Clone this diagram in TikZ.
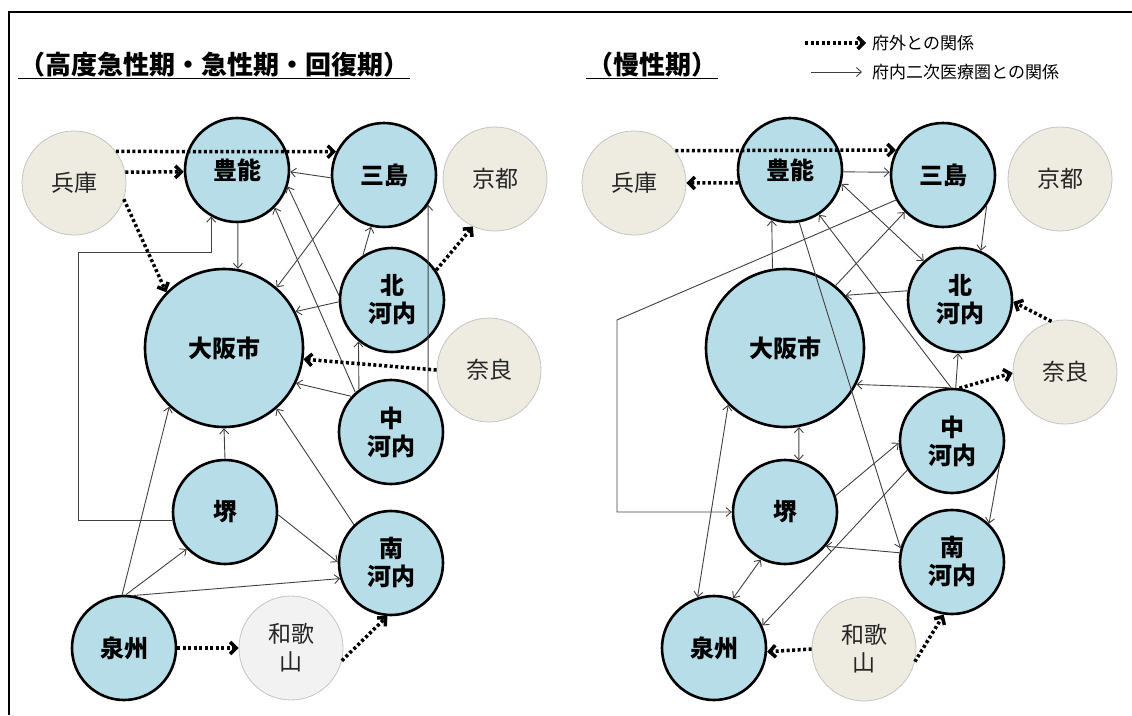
\documentclass[tikz,border=0pt]{standalone}
\usepackage{fontspec}
\setmainfont{Noto Sans CJK JP}
\usetikzlibrary{arrows.meta}

\begin{document}
\begin{tikzpicture}[x=1pt, y=-1pt,
	area/.style={shape=circle, minimum size=104pt, inner sep=0pt, align=center,
		font=\fontsize{24}{28}\selectfont\bfseries, line width=2.6pt, draw=black, fill=myblue},
	city/.style={area, minimum size=158pt},
	pref/.style={shape=circle, minimum size=104pt, inner sep=0pt, align=center,
		font=\fontsize{23}{28}\selectfont, text=mytext, line width=0.8pt, draw=mygrey, fill=mybeige},
	heading/.style={anchor=west, inner sep=1pt, font=\fontsize{26}{30}\selectfont\bfseries},
	note/.style={anchor=west, inner sep=0pt, font=\fontsize{17}{20}\selectfont},
	extarrow/.style={-{Straight Barb[length=6pt,width=12pt]}, line width=3.5pt,
		dash pattern=on 3pt off 2.5pt, color=black},
	intarrow/.style={line width=0.9pt, color=myline},
	>={Straight Barb[length=5pt,width=9pt]},
]
\definecolor{myblue}{HTML}{B7DEE8}
\definecolor{mybeige}{HTML}{EEECE1}
\definecolor{mylight}{HTML}{F2F2F2}
\definecolor{mygrey}{HTML}{C4C4C4}
\definecolor{mytext}{HTML}{262626}
\definecolor{myline}{HTML}{404040}
\useasboundingbox (0,0) rectangle (1132,715);
\draw[line width=1.5pt] (9,715) -- (9,12) -- (1132,12);

\node[heading] (t1) at (18,65) {（高度急性期・急性期・回復期）};
\node[heading] (t2) at (586,65) {（慢性期）};
\draw[line width=1pt] (t1.south west) -- (t1.south east);
\draw[line width=1pt] (t2.south west) -- (t2.south east);

\node[note] (n1) at (872,43) {府外との関係};
\node[note] (n2) at (872,72) {府内二次医療圏との関係};
\coordinate (k1) at (805,43);
\coordinate (k2) at (811,72);
\draw[extarrow, shorten >=6pt] (k1) -- (n1.west);
\draw[intarrow, ->, shorten >=10pt] (k2) -- (n2.west);

\node[pref] (hyo1) at (74,183) {兵庫};
\node[area] (toy1) at (237,170) {豊能};
\node[area] (mis1) at (384,175) {三島};
\node[pref] (kyo1) at (495,179) {京都};
\node[area] (kit1) at (392,300) {北\\河内};
\node[city] (osa1) at (224,348) {大阪市};
\node[pref] (nar1) at (489,370) {奈良};
\node[area] (nak1) at (391,432) {中\\河内};
\node[area] (sak1) at (225,512) {堺};
\node[area] (min1) at (391,563) {南\\河内};
\node[area] (sen1) at (124,648) {泉州};
\node[pref, fill=mylight] (wak1) at (291,648) {和歌\\山};

\node[pref] (hyo2) at (634,183) {兵庫};
\node[area] (toy2) at (790,170) {豊能};
\node[area] (mis2) at (943,175) {三島};
\node[pref] (kyo2) at (1060,179) {京都};
\node[area] (kit2) at (960,300) {北\\河内};
\node[city] (osa2) at (785,348) {大阪市};
\node[pref] (nar2) at (1065,372) {奈良};
\node[area] (nak2) at (952,441) {中\\河内};
\node[area] (sak2) at (785,512) {堺};
\node[area] (min2) at (952,562) {南\\河内};
\node[area] (sen2) at (714,648) {泉州};
\node[pref] (wak2) at (864,649) {和歌\\山};

\coordinate (c1) at (78,252);
\coordinate (c2) at (617,320);

\begin{scope}[->, intarrow]
\draw (mis1.183) -- (toy1.358);
\draw (toy1.271) -- (osa1.80);
\draw (sak1.189) -| (c1) -| (toy1.241);
\draw (mis1.213) -- (osa1.49);
\draw (kit1.123) -- (mis1.256);
\draw (kit1.182) -- (osa1.27);
\draw (kit1.175) -- (toy1.-18);
\draw (nak1.132) -- (toy1.-45);
\draw (nak1.127) -- (kit1.231);
\draw (nak1.46) -- (mis1.326);
\draw (nak1.138) -- (osa1.-26);
\draw (min1.134) -- (osa1.-49);
\draw (sak1.90) -- (osa1.270);
\draw (sak1.-3) -- (min1.179);
\draw (sen1.88) -- (sak1.224);
\draw (sen1.80) -- (min1.197);
\draw (sen1.92) -- (osa1.227);

\draw (toy2.358) -- (mis2.177);
\draw (osa2.99) -- (toy2.250);
\draw (mis2.208) -- (c2) |- (sak2.west);
\draw (toy2.280) -- (min2.165);
\draw (nak2.91) -- (toy2.303);
\draw[<->] (toy2.345) -- (kit2.133);
\draw (osa2.51) -- (mis2.224);
\draw (kit2.170) -- (osa2.41);
\draw (mis2.325) -- (kit2.67);
\draw (nak2.86) -- (kit2.268);
\draw (nak2.93) -- (osa2.-27);
\draw[<->] (osa2.280) -- (sak2.75);
\draw[<->] (sen2.108) -- (osa2.225);
\draw (sak2.18) -- (nak2.182);
\draw (nak2.213) -- (sen2.25);
\draw (min2.170) -- (sak2.-40);
\draw[<->] (sak2.243) -- (sen2.69);
\draw (nak2.-27) -- (min2.46);
\end{scope}

\begin{scope}[extarrow]
\draw (hyo1.37) -- (mis1.154);
\draw (hyo1.12) -- (toy1.182);
\draw (hyo1.-18) -- (osa1.136);
\draw (kit1.34) -- (kyo1.245);
\draw (nar1.180) -- (osa1.-8);
\draw (sen1.0) -- (wak1.180);
\draw (wak1.-14) -- (min1.266);

\draw (hyo2.38) -- (mis2.152);
\draw (toy2.194) -- (hyo2.0);
\draw (nar2.105) -- (kit2.358);
\draw (nak2.82) -- (nar2.181);
\draw (wak2.180) -- (sen2.356);
\draw (wak2.-14) -- (min2.261);
\end{scope}
\end{tikzpicture}
\end{document}
